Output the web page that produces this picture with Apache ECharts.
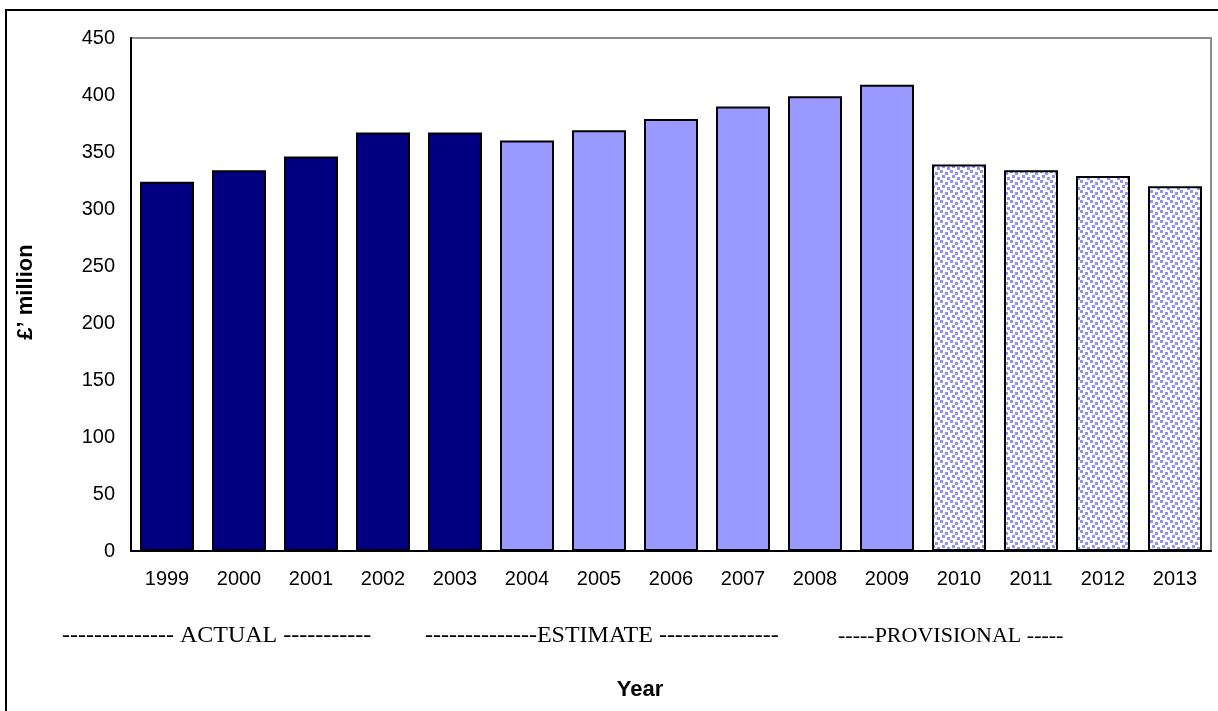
<!DOCTYPE html>
<html lang="en">
<head>
<meta charset="UTF-8" />
<title>Year chart</title>
<script src="https://cdn.jsdelivr.net/npm/echarts@6/dist/echarts.min.js"></script>
<style>
  html, body { margin: 0; padding: 0; background: #fff; }
  #main { width: 1218px; height: 711px; }
</style>
</head>
<body>
<div id="main"></div>
<script type="text/javascript">
// years on the x axis
var years = ['1999', '2000', '2001', '2002', '2003', '2004', '2005', '2006',
             '2007', '2008', '2009', '2010', '2011', '2012', '2013'];
// values in £ million, split by status
var actual      = [324, 334, 346, 367, 367, '-', '-', '-', '-', '-', '-', '-', '-', '-', '-'];
var estimate    = ['-', '-', '-', '-', '-', 360, 369, 379, 390, 399, 409, '-', '-', '-', '-'];
var provisional = ['-', '-', '-', '-', '-', '-', '-', '-', '-', '-', '-', 339, 334, 329, 320];
var yTicks = [0, 50, 100, 150, 200, 250, 300, 350, 400, 450];

var sans = '"Liberation Sans", Arial, sans-serif';
var serif = '"Liberation Serif", "Times New Roman", serif';

// dotted fill for the provisional bars
function dotPattern() {
  var c = document.createElement('canvas');
  c.width = 10; c.height = 10;
  var ctx = c.getContext('2d');
  ctx.fillStyle = '#ffffff';
  ctx.fillRect(0, 0, 10, 10);
  ctx.fillStyle = '#8f8fff';
  ctx.fillRect(0, 0, 3, 3);
  ctx.fillRect(5, 2, 3, 3);
  ctx.fillRect(2, 5, 3, 3);
  ctx.fillRect(7, 7, 3, 3);
  return c;
}

var myChart = echarts.init(document.getElementById('main'), null, { renderer: 'canvas' });

var barBorder = { borderColor: '#000', borderWidth: 2 };

var option = {
  animation: false,
  textStyle: { fontFamily: sans },
  grid: {
    left: 131, right: 7, top: 38, bottom: 160,
    show: true, borderColor: '#8c8c8c', borderWidth: 2
  },
  xAxis: {
    type: 'category',
    data: years,
    axisLine: { lineStyle: { color: '#000', width: 2 } },
    axisTick: { show: false },
    axisLabel: { color: '#000', fontSize: 20, margin: 18 }
  },
  yAxis: {
    type: 'value',
    min: yTicks[0],
    max: yTicks[yTicks.length - 1],
    interval: 50,
    axisLine: { show: true, lineStyle: { color: '#000', width: 2 } },
    axisTick: { show: false },
    splitLine: { show: false },
    axisLabel: { color: '#000', fontSize: 20, margin: 16 }
  },
  series: [
    {
      name: 'Actual', type: 'bar', stack: 'all', data: actual,
      barCategoryGap: '25%',
      itemStyle: Object.assign({ color: '#000080' }, barBorder)
    },
    {
      name: 'Estimate', type: 'bar', stack: 'all', data: estimate,
      itemStyle: Object.assign({ color: '#9999ff' }, barBorder)
    },
    {
      name: 'Provisional', type: 'bar', stack: 'all', data: provisional,
      itemStyle: Object.assign({ color: { image: dotPattern(), repeat: 'repeat' } }, barBorder)
    }
  ],
  graphic: [
    {
      type: 'rect', silent: true, z: -1,
      shape: { x: 6, y: 10, width: 1240, height: 720 },
      style: { fill: 'none', stroke: '#000', lineWidth: 2 }
    },
    {
      type: 'text', x: 26, y: 292, rotation: Math.PI / 2,
      style: { text: '£’ million', fontSize: 22, fontWeight: 'bold', fill: '#000',
               fontFamily: sans, align: 'center', verticalAlign: 'middle' }
    },
    {
      type: 'text', x: 62, y: 636,
      style: { text: '-------------- ACTUAL -----------', fontSize: 24, fill: '#000',
               fontFamily: serif, verticalAlign: 'middle' }
    },
    {
      type: 'text', x: 425, y: 636,
      style: { text: '--------------ESTIMATE ---------------', fontSize: 24, fill: '#000',
               fontFamily: serif, verticalAlign: 'middle' }
    },
    {
      type: 'text', x: 838, y: 636,
      style: { text: '-----PROVISIONAL -----', fontSize: 22, fill: '#000',
               fontFamily: serif, verticalAlign: 'middle' }
    },
    {
      type: 'text', x: 640, y: 690,
      style: { text: 'Year', fontSize: 22, fontWeight: 'bold', fill: '#000',
               fontFamily: sans, align: 'center', verticalAlign: 'middle' }
    }
  ]
};

myChart.setOption(option);
</script>
</body>
</html>
